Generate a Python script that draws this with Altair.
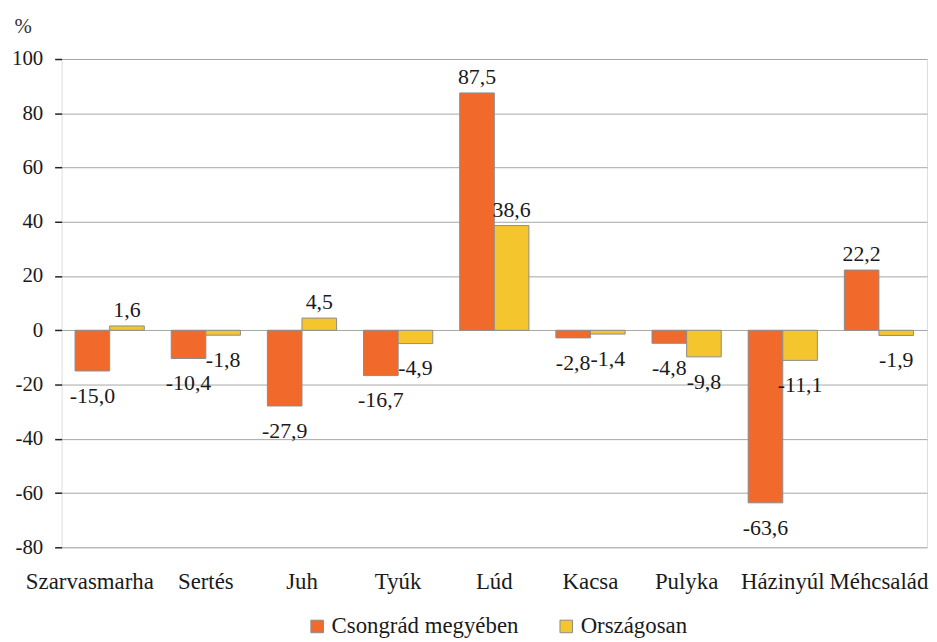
import altair as alt
import pandas as pd

categories = ["Szarvasmarha", "Sertés", "Juh", "Tyúk", "Lúd", "Kacsa", "Pulyka", "Házinyúl", "Méhcsalád"]
series_names = ["Csongrád megyében", "Országosan"]
csongrad = [-15.0, -10.4, -27.9, -16.7, 87.5, -2.8, -4.8, -63.6, 22.2]
orszagos = [1.6, -1.8, 4.5, -4.9, 38.6, -1.4, -9.8, -11.1, -1.9]
y_ticks = [-80, -60, -40, -20, 0, 20, 40, 60, 80, 100]

rows = []
for i, c in enumerate(categories):
    for s, vals in zip(series_names, [csongrad, orszagos]):
        v = vals[i]
        rows.append({"cat": c, "series": s, "value": v,
                     "label": f"{v:.1f}".replace(".", ",")})
df = pd.DataFrame(rows)

FONT = "Liberation Serif"
colors = ["#F16A2C", "#F5C52E"]

x_enc = alt.X("cat:N", sort=categories, title=None,
              scale=alt.Scale(paddingInner=0.28, paddingOuter=0.14),
              axis=alt.Axis(labelAngle=0, ticks=False, domain=False, labelPadding=24,
                            labelFontSize=23, labelFont=FONT, labelColor="#1a1a1a",
                            labelBaseline="top",
                            labelOffset={"condition": {"test": "datum.value == 'Szarvasmarha'", "value": -20},
                                         "value": 0}))
xoff = alt.XOffset("series:N", sort=series_names, scale=alt.Scale(paddingInner=0, paddingOuter=0))
y_scale = alt.Scale(domain=[-80, 100], nice=False)

bars = alt.Chart(df).mark_bar(stroke="#8c8c8c", strokeWidth=1).encode(
    x=x_enc,
    xOffset=xoff,
    y=alt.Y("value:Q", scale=y_scale, title="%",
            axis=alt.Axis(values=y_ticks, domain=False, tickSize=7, tickColor="#222",
                          tickWidth=1.5, labelPadding=12, labelFontSize=21, labelFont=FONT,
                          labelColor="#1a1a1a", gridColor="#a6a6a6", gridWidth=1,
                          labelExpr="toString(datum.value)",
                          titleAngle=0, titleX=-48, titleY=-27, titleAlign="left",
                          titleBaseline="alphabetic", titleFont=FONT, titleFontSize=21,
                          titleFontWeight="normal", titleColor="#333")),
    color=alt.Color("series:N", sort=series_names, title=None,
                    scale=alt.Scale(domain=series_names, range=colors),
                    legend=alt.Legend(orient="none", legendX=246, legendY=560,
                                      direction="horizontal", symbolType="square",
                                      symbolSize=160, symbolStrokeColor="#8c8c8c",
                                      symbolStrokeWidth=1, labelFont=FONT, labelFontSize=23,
                                      labelLimit=400,
                                      labelColor="#1a1a1a", labelOffset=3, columnPadding=36)),
)

pos_labels = alt.Chart(df).transform_filter("datum.value >= 0").mark_text(
    font=FONT, fontSize=22, color="#1a1a1a", baseline="alphabetic", dy=-9
).encode(x=x_enc, xOffset=xoff, y=alt.Y("value:Q", scale=y_scale), text="label:N")

neg_labels = alt.Chart(df).transform_filter("datum.value < 0").mark_text(
    font=FONT, fontSize=22, color="#1a1a1a", baseline="alphabetic", dy=32
).encode(x=x_enc, xOffset=xoff, y=alt.Y("value:Q", scale=y_scale), text="label:N")

chart = alt.layer(bars, pos_labels, neg_labels).properties(
    width=872, height=492,
    autosize=alt.AutoSizeParams(type="none"),
    padding={"left": 54, "top": 49, "right": 2, "bottom": 92},
).configure_view(stroke="#222", strokeWidth=2).configure(background="white")

chart.save("out.html", embed_options={"renderer": "svg", "actions": False})
